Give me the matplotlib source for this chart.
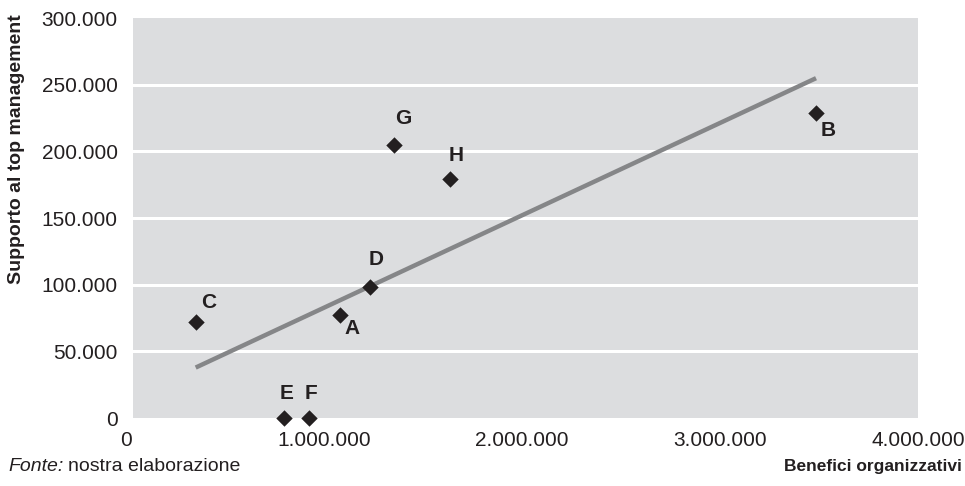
import numpy as np
import matplotlib
matplotlib.use("Agg")
import matplotlib.pyplot as plt
from matplotlib.ticker import FuncFormatter

# Organisations: organisational benefits vs. top management support
labels = ["C", "A", "D", "G", "H", "B", "E", "F"]
benefici = [352000, 1080000, 1230000, 1355000, 1635000, 3485000, 800000, 925000]
supporto = [72000, 77000, 98000, 205000, 179000, 229000, 0, 0]

# label offsets in points (dx, dy) from each marker
offsets = {"C": (9.6, 13.7), "A": (9.1, -9.8), "D": (4.8, 19.7), "G": (6.7, 18.5),
           "H": (4.8, 17.5), "B": (8.9, -13), "E": (1.7, 17.8), "F": (1.2, 17.8)}

x_ticks = [0, 1000000, 2000000, 3000000, 4000000]
y_ticks = [0, 50000, 100000, 150000, 200000, 250000, 300000]

plt.rcParams["font.family"] = ["Liberation Sans", "DejaVu Sans"]
ink = "#231f20"

fig = plt.figure(figsize=(9.65, 4.86), dpi=100)
ax = fig.add_axes([126 / 965, 1 - 418 / 486, 792 / 965, 400 / 486])
ax.set_facecolor("none")
ax.set_xlim(0, 4000000)
ax.set_ylim(0, 300000)

# grey panel and white horizontal gridlines
ax.axvspan(35000, 4000000, color="#dcdddf", zorder=0, lw=0)
for yv in y_ticks[1:-1]:
    ax.axhline(yv, xmin=35000 / 4000000, color="white", lw=2.2, zorder=1)

# linear trend through the points
x = np.array(benefici, dtype=float)
y = np.array(supporto, dtype=float)
k, q = np.polyfit(x, y, 1)
xs = np.array([x.min(), x.max()])
ax.plot(xs, k * xs + q, color="#858688", lw=3.2, solid_capstyle="butt", zorder=2)

ax.scatter(x, y, marker="D", s=70, color=ink, zorder=3, clip_on=False, lw=0)
for lab, xv, yv in zip(labels, benefici, supporto):
    ax.annotate(lab, (xv, yv), xytext=offsets[lab], textcoords="offset points",
                ha="center", va="center", fontsize=15, fontweight="bold",
                color=ink, zorder=4)

fmt = FuncFormatter(lambda v, p: f"{int(v):,}".replace(",", "."))
ax.xaxis.set_major_formatter(fmt)
ax.yaxis.set_major_formatter(fmt)
ax.set_xticks(x_ticks)
ax.set_yticks(y_ticks)
ax.tick_params(length=0, labelsize=15, labelcolor=ink)
ax.tick_params(axis="x", pad=9)
ax.tick_params(axis="y", pad=6)
for s in ax.spines.values():
    s.set_visible(False)

fig.text(17 / 965, 1 - 149 / 486, "Supporto al top management", rotation=90,
         ha="center", va="center", fontsize=14, fontweight="bold", color=ink)
fig.text(962 / 965, 1 - 466 / 486, "Benefici organizzativi", ha="right", va="center",
         fontsize=12.5, fontweight="bold", color=ink)
src = fig.text(8 / 965, 1 - 466 / 486, "Fonte:", ha="left", va="center",
               fontsize=14, style="italic", color=ink)
ax.annotate("nostra elaborazione", xy=(1, 0), xycoords=src, xytext=(3.5, 0),
            textcoords="offset points", ha="left", va="bottom",
            fontsize=14, color=ink, annotation_clip=False)

fig.savefig("out.png", dpi=100)
